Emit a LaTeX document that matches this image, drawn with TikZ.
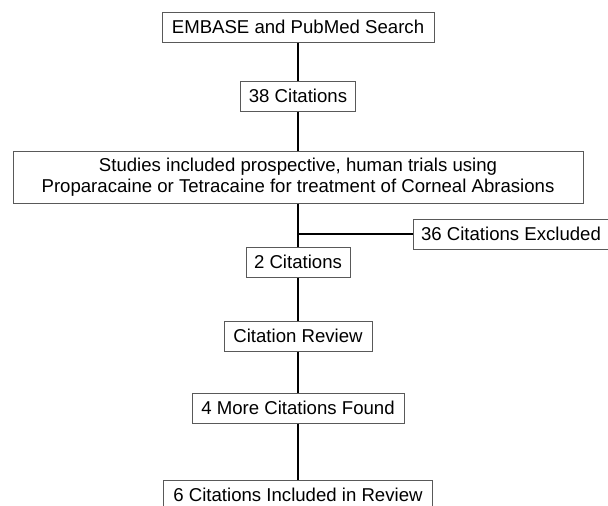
\documentclass[tikz,border=0pt]{standalone}
\usepackage{fontspec}
\setmainfont{Liberation Sans}
\usepackage{tikz}
\usetikzlibrary{arrows}

\tikzset{
  stage/.style = {draw = black!65, line width = 1pt, inner sep = 0pt,
                  minimum height = 30pt, align = center,
                  font = \fontsize{18.6}{21.5}\selectfont},
  link/.style = {line width = 2pt, black}
}

\begin{document}
\begin{tikzpicture}[x = 1pt, y = -1pt]
% Fix the page size
\useasboundingbox (0,0) rectangle (608,506);

% Draw the stages
\node[stage, minimum width = 272pt] (search) at (298,27) {EMBASE and PubMed Search};
\node[stage, minimum width = 115pt] (found) at (298,96) {38 Citations};
\node[stage, minimum width = 570pt, minimum height = 52pt] (criteria) at (298,177)
  {Studies included prospective, human trials using\\
   Proparacaine or Tetracaine for treatment of Corneal Abrasions};
\node[stage, minimum width = 196pt] (excluded) at (511,234) {36 Citations Excluded};
\node[stage, minimum width = 104pt] (kept) at (298,262) {2 Citations};
\node[stage, minimum width = 148pt] (review) at (298,336) {Citation Review};
\node[stage, minimum width = 212pt] (more) at (298,408) {4 More Citations Found};
\node[stage, minimum width = 269pt] (included) at (298,495) {6 Citations Included in Review};

% Draw the links
\draw[link] (search) -- (found);
\draw[link] (found) -- (criteria);
\draw[link] (criteria) -- (kept);
\draw[link] (kept.north |- excluded.west) -- (excluded.west);
\draw[link] (kept) -- (review);
\draw[link] (review) -- (more);
\draw[link] (more) -- (included);

\end{tikzpicture}
\end{document}
